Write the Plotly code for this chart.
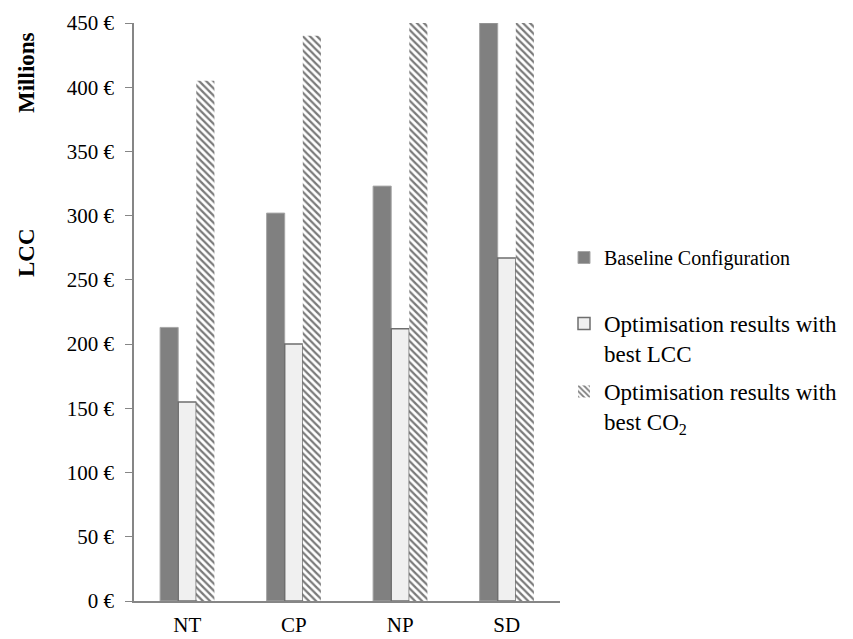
import plotly.graph_objects as go

# Life-cycle cost per configuration, millions of euros
categories = ["NT", "CP", "NP", "SD"]
baseline = [213, 302, 323, 450]
best_lcc = [155, 200, 212, 267]
best_co2 = [405, 440, 450, 450]

y_ticks = [0, 50, 100, 150, 200, 250, 300, 350, 400, 450]
y_tick_text = [f"{v} €" for v in y_ticks]

FONT = "Liberation Serif"

# Plot area in pixels
W, H = 853, 639
L, R, T, B = 134, 293, 23, 38
plot_w = W - L - R
plot_h = H - T - B


def px_x(px):
    return (px - L) / plot_w


def px_y(py):
    return (H - B - py) / plot_h


fig = go.Figure()

fig.add_trace(go.Bar(
    x=categories, y=baseline,
    name="Baseline Configuration",
    marker=dict(color="#808080", line=dict(color="#a6a6a6", width=1)),
    legend="legend",
))
fig.add_trace(go.Bar(
    x=categories, y=best_lcc,
    name="Optimisation results with<br>best LCC",
    marker=dict(color="#f0f0f0", line=dict(color="#6e6e6e", width=1.5)),
    legend="legend2",
))
fig.add_trace(go.Bar(
    x=categories, y=best_co2,
    name="Optimisation results with<br>best CO<sub>2</sub>",
    marker=dict(
        color="white",
        line=dict(width=0),
        pattern=dict(shape="\\", fgcolor="#7a7a7a", bgcolor="white",
                     size=5, solidity=0.45, fillmode="replace"),
    ),
    legend="legend3",
))


def legend_box(top_px, size):
    return dict(
        x=px_x(564), xanchor="left", y=px_y(top_px), yanchor="top",
        valign="top", itemwidth=30, bgcolor="rgba(0,0,0,0)",
        font=dict(family=FONT, size=size, color="black"),
    )


fig.update_layout(
    width=W, height=H,
    margin=dict(l=L, r=R, t=T, b=B, autoexpand=False),
    paper_bgcolor="white", plot_bgcolor="white",
    font=dict(family=FONT, size=21, color="black"),
    barmode="group", bargap=0.49, bargroupgap=0,
    showlegend=True,
    legend=legend_box(238, 20),
    legend2=legend_box(302, 23),
    legend3=legend_box(370, 23),
    xaxis=dict(
        range=[-0.5, 3.5], showline=True, linecolor="#868686", linewidth=1.5,
        ticks="", showgrid=False, automargin=False, ticklabelstandoff=4,
        tickfont=dict(family=FONT, size=21),
    ),
    yaxis=dict(
        range=[0, 450], tickmode="array", tickvals=y_ticks, ticktext=y_tick_text,
        showline=True, linecolor="#868686", linewidth=1.5,
        ticks="outside", ticklen=7, tickcolor="#868686", tickwidth=1,
        showgrid=False, zeroline=False, automargin=False, ticklabelstandoff=7,
        tickfont=dict(family=FONT, size=21),
    ),
    annotations=[
        dict(text="<b>LCC</b>", x=px_x(27), y=px_y(252), xref="paper", yref="paper",
             xanchor="center", yanchor="middle",
             textangle=-90, showarrow=False, font=dict(family=FONT, size=23)),
        dict(text="<b>Millions</b>", x=px_x(27), y=px_y(72), xref="paper", yref="paper",
             xanchor="center", yanchor="middle",
             textangle=-90, showarrow=False, font=dict(family=FONT, size=23)),
    ],
)

fig.write_html("out.html")
